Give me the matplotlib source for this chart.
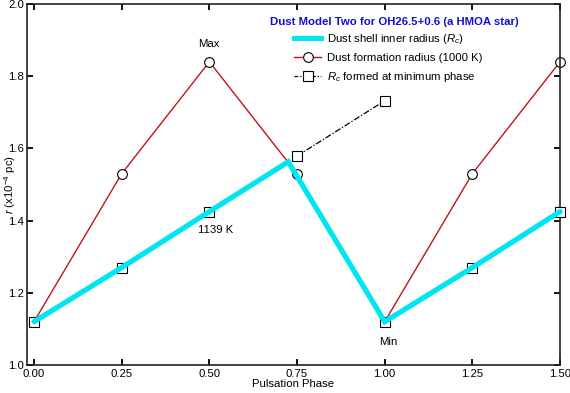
import matplotlib
matplotlib.use("Agg")
import matplotlib.pyplot as plt
from matplotlib.lines import Line2D

plt.rcParams['font.family'] = ['Liberation Sans', 'DejaVu Sans']
plt.rcParams['mathtext.fontset'] = 'custom'
plt.rcParams['mathtext.rm'] = 'Liberation Sans'
plt.rcParams['mathtext.it'] = 'Liberation Sans:italic'

# ---- data ----
phase = [0.0, 0.25, 0.5, 0.75, 1.0, 1.25, 1.5]
r_formation = [1.12, 1.53, 1.84, 1.53, 1.12, 1.53, 1.84]

shell_phase = [0.0, 0.25, 0.5, 0.725, 1.0, 1.25, 1.5]
r_shell = [1.12, 1.27, 1.425, 1.563, 1.12, 1.27, 1.425]

rc_phase = [0.0, 0.25, 0.5, 1.0, 1.25, 1.5]
r_rc = [1.12, 1.27, 1.425, 1.12, 1.27, 1.425]

rcmin_phase = [0.75, 1.0]
r_rcmin = [1.579, 1.732]

xticks = [0.0, 0.25, 0.5, 0.75, 1.0, 1.25, 1.5]
xticklabels = ["0.00", "0.25", "0.50", "0.75", "1.00", "1.25", "1.50"]
yticks = [1.0, 1.2, 1.4, 1.6, 1.8, 2.0]
yticklabels = ["1.0", "1.2", "1.4", "1.6", "1.8", "2.0"]

fs = 8.2
fig = plt.figure(figsize=(5.7, 3.93), dpi=100)
ax = fig.add_axes([0.0468, 0.0712, 0.9357, 0.9186])

cyan = '#00e6f0'
red = '#c0141c'

# red formation radius
ax.plot(phase, r_formation, color=red, lw=1.0, marker='o', ms=7,
        mfc='white', mec='black', mew=0.8, zorder=2, clip_on=False)
# squares along shell
ax.plot(rc_phase, r_rc, ls='none', marker='s', ms=6.5, mfc='white',
        mec='black', mew=0.8, zorder=3, clip_on=False)
# cyan shell
ax.plot(shell_phase, r_shell, color=cyan, lw=3.8, zorder=4,
        solid_capstyle='round', solid_joinstyle='miter', clip_on=False)
# Rc formed at minimum
ax.plot(rcmin_phase, r_rcmin, color='black', lw=0.9, ls=(0, (5, 1.5, 1, 1.5)),
        marker='s', ms=6.5, mfc='white', mec='black', mew=0.8, zorder=5)

ax.text(0.5, 1.89, "Max", ha='center', va='center', fontsize=fs)
ax.text(0.518, 1.374, "1139 K", ha='center', va='center', fontsize=fs)
ax.text(1.01, 1.064, "Min", ha='center', va='center', fontsize=fs)

ax.set_xlim(-0.021, 1.5)
ax.set_ylim(1.0, 2.0)
ax.set_xticks(xticks)
ax.set_xticklabels(xticklabels, fontsize=fs)
ax.set_yticks(yticks)
ax.set_yticklabels(yticklabels, fontsize=fs)
ax.tick_params(direction='in', length=4, width=1.3, top=True, right=True,
               pad=3, colors='black')
ax.tick_params(axis='y', pad=2)
for s in ax.spines.values():
    s.set_linewidth(1.2)
    s.set_color('#222222')

ax.set_xlabel("Pulsation Phase", fontsize=fs, labelpad=0)
ax.set_ylabel(r"$\mathit{r}$ (x10$^{-4}$ pc)", fontsize=fs, va='center')
ax.yaxis.set_label_coords((10 - 26.7) / 533.3, 0.5)

# legend
fig.text(270 / 570, 1 - 21.7 / 393, "Dust Model Two for OH26.5+0.6 (a HMOA star)",
         color='#1010d0', fontweight='bold', fontsize=fs, ha='left', va='center')
handles = [
    Line2D([], [], color=cyan, lw=3.6),
    Line2D([], [], color=red, lw=1.0, marker='o', ms=7, mfc='white', mec='black', mew=0.8),
    Line2D([], [], color='black', lw=0.9, ls=(0, (3, 1.5, 1, 1.5)), marker='s', ms=6.5,
           mfc='white', mec='black', mew=0.8),
]
labels = [r"Dust shell inner radius ($\mathit{R_c}$)",
          "Dust formation radius (1000 K)",
          r"$\mathit{R_c}$ formed at minimum phase"]
leg = fig.legend(handles, labels, loc='upper left',
                 bbox_to_anchor=(294 / 570, 1 - 32 / 393), frameon=False,
                 fontsize=fs, handlelength=2.4, handletextpad=0.5,
                 labelspacing=0.62, borderpad=0, borderaxespad=0)

fig.savefig("out.png", dpi=100)
